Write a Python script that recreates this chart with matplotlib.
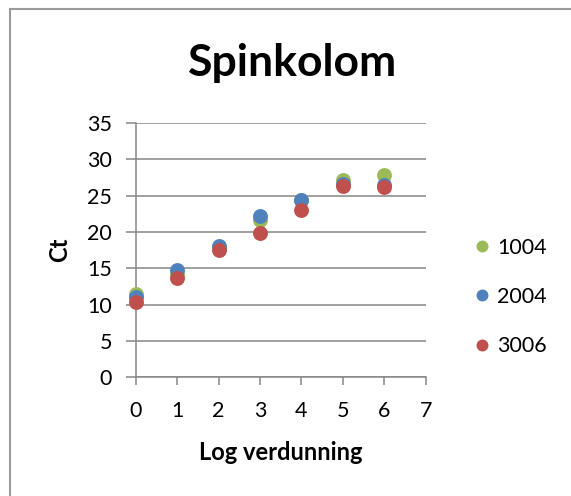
import numpy as np
import matplotlib.pyplot as plt
from matplotlib.patches import Rectangle

plt.rcParams['font.family'] = ['Lato', 'DejaVu Sans']

# Ct values per log dilution
log_dil = [0, 1, 2, 3, 4, 5, 6]
ct_1004 = [11.5, 14.2, 17.8, 21.6, 24.4, 27.1, 27.9]
ct_2004 = [11.1, 14.8, 18.1, 22.2, 24.4, 26.6, 26.5]
ct_3006 = [10.3, 13.6, 17.5, 19.9, 23.0, 26.3, 26.2]

series = [('1004', ct_1004, '#9BBB59'),
          ('2004', ct_2004, '#4F81BD'),
          ('3006', ct_3006, '#C0504D')]

W, H = 571, 496
fig = plt.figure(figsize=(W / 100, H / 100), dpi=100)

# chart frame (runs off right/bottom edge)
fig.patches.append(Rectangle((10 / W, -0.1), 1.2, 1.1 - 9.5 / H,
                             transform=fig.transFigure, fill=False,
                             edgecolor='#9a9a9a', linewidth=1.5))

ax = fig.add_axes([135.7 / W, 1 - 377.3 / H, 290 / W, 254.3 / H])

for name, vals, col in series:
    ax.scatter(log_dil, vals, s=115, color=col, label=name, zorder=3,
               linewidths=0)

grey = '#868686'
ax.set_xlim(0, 7)
ax.set_ylim(0, 35)
ax.set_xticks(range(0, 8))
ax.set_yticks(range(0, 36, 5))
ax.yaxis.grid(True, color=grey, linewidth=1.1)
ax.set_axisbelow(True)
for s in ['top', 'right']:
    ax.spines[s].set_visible(False)
for s in ['left', 'bottom']:
    ax.spines[s].set_color(grey)
    ax.spines[s].set_linewidth(1.1)
ax.tick_params(axis='y', length=7, width=1.1, color=grey, pad=10, labelsize=15.5)
ax.tick_params(axis='x', length=6, width=1.1, color=grey, pad=11, labelsize=15.5)
for c in ax.collections:
    c.set_clip_on(False)

fig.text(293 / W, 1 - 63 / H, 'Spinkolom', ha='center', va='center',
         fontsize=32, fontweight='bold')
fig.text(60 / W, 1 - 250 / H, 'Ct', ha='center', va='center', rotation=90,
         fontsize=17, fontweight='bold')
fig.text(281 / W, 1 - 453 / H, 'Log verdunning', ha='center', va='center',
         fontsize=17, fontweight='bold')

fig.legend(loc='center left', bbox_to_anchor=(452 / W, 1 - 297 / H),
           frameon=False, fontsize=15.5, markerscale=0.8, labelspacing=1.35,
           handlelength=1.0, handletextpad=0.2, scatteryoffsets=[0.5])

fig.savefig('out.png', dpi=100)
